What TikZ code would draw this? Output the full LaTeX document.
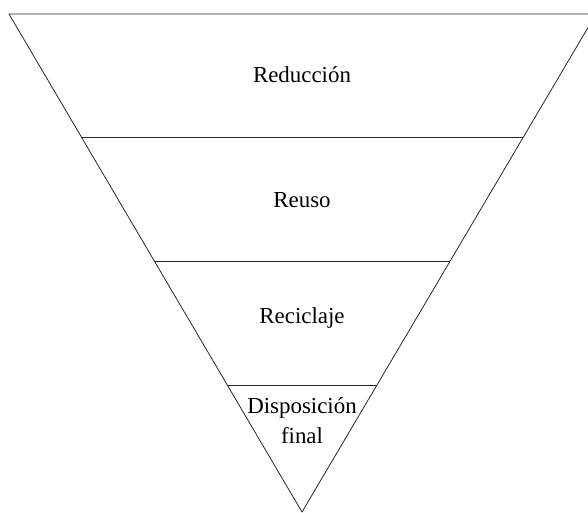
\documentclass[tikz,border=0pt]{standalone}
\usepackage{fontspec}
\setmainfont{Liberation Serif}
\usetikzlibrary{calc}

\begin{document}
\begin{tikzpicture}[x=1bp,y=-1bp,
  edge/.style={draw=black!85,line width=0.8pt},
  level/.style={font=\fontsize{23}{30}\selectfont,anchor=base,align=center,inner sep=0pt}]

  \useasboundingbox (0,0) rectangle (588,513);
  \clip (0,0) rectangle (588,513);

  % corners of the inverted triangle
  \coordinate (tl) at (9,14);
  \coordinate (tr) at (596,14);
  \coordinate (apex) at (302,512);

  \draw[edge,line join=round] (tl) -- (tr) -- (apex) -- cycle;

  % dividing lines between the levels
  \foreach \f/\n in {0.247/a,0.496/b,0.745/c}{
    \coordinate (l\n) at ($(tl)!\f!(apex)$);
    \coordinate (r\n) at ($(tr)!\f!(apex)$);
    \draw[edge] (l\n) -- (r\n);
  }

  \node[level] (reduccion) at (302,83) {Reducción};
  \node[level] (reuso) at (302,208) {Reuso};
  \node[level] (reciclaje) at (302,323) {Reciclaje};
  \node[level] (disposicion) at (302,443) {Disposición\\final};

\end{tikzpicture}
\end{document}
